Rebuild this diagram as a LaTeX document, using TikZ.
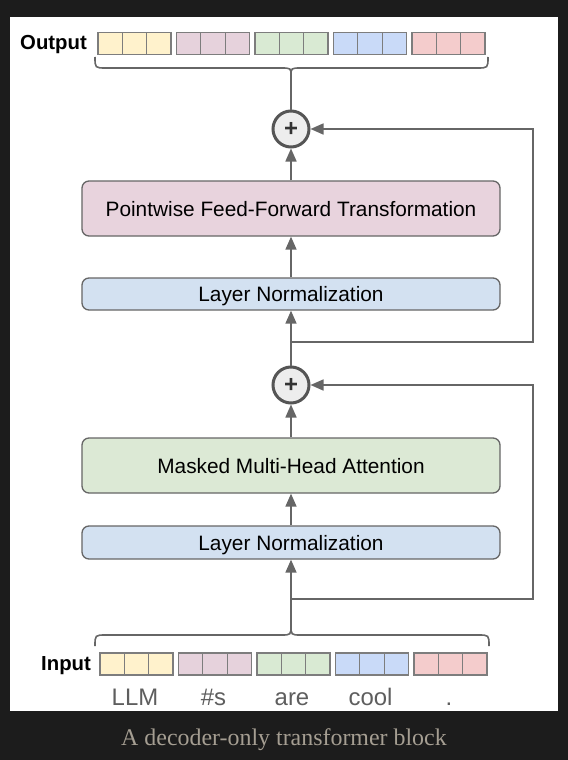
\documentclass[tikz,border=0pt]{standalone}
\usepackage{fontspec}
\setmainfont{Liberation Sans}
\newfontfamily\capfont{Liberation Serif}
\usetikzlibrary{arrows.meta}
\definecolor{bgdark}{HTML}{1C1C1C}
\definecolor{tokY}{HTML}{FFF2CC}
\definecolor{tokP}{HTML}{E6D2DC}
\definecolor{tokG}{HTML}{D9EAD3}
\definecolor{tokB}{HTML}{C9DAF8}
\definecolor{tokR}{HTML}{F4CCCC}
\definecolor{ffncol}{HTML}{E8D3DD}
\definecolor{attncol}{HTML}{DCE9D5}
\definecolor{lncol}{HTML}{D3E1F1}
\definecolor{linecol}{HTML}{666666}
\definecolor{circcol}{HTML}{555555}
\definecolor{wordcol}{HTML}{5E5E5E}
\definecolor{capcol}{HTML}{A59E92}
\tikzset{
  cell/.style={draw=linecol!85, line width=1.3bp, minimum width=24.33bp, minimum height=22bp, inner sep=0pt},
  blockbox/.style={draw=linecol, line width=1.3bp, rounded corners=7bp, minimum width=418bp, inner sep=0pt,
    text depth=0pt, font=\fontsize{20.9}{25}\selectfont, text=black},
  plusnode/.style={circle, draw=circcol, line width=3bp, fill=black!7, minimum size=36bp, inner sep=0pt,
    font=\bfseries\fontsize{24}{24}\selectfont, text=black!80},
  conn/.style={draw=linecol, line width=1.6bp},
  arr/.style={conn, -{Triangle[length=13bp,width=11bp]}},
  word/.style={anchor=base, inner sep=0pt, font=\fontsize{24}{28}\selectfont, text=wordcol},
  sidelbl/.style={anchor=base west, inner sep=0pt, font=\bfseries\fontsize{20.4}{24}\selectfont, text=black},
  brace/.style={draw=linecol, line width=1.6bp}
}
\begin{document}
\begin{tikzpicture}[x=1bp,y=-1bp]
\useasboundingbox (0,0) rectangle (568,760);
\fill[bgdark] (0,0) rectangle (568,760);
\fill[white] (10,17) rectangle (558,711);

% output tokens
\foreach \c [count=\i from 0] in {tokY,tokP,tokG,tokB,tokR} {
  \foreach \j in {0,1,2} {
    \node[cell, fill=\c] (o\i\j) at ({98+78.5*\i+24.33*(\j+0.5)},43.5) {};
    \node[cell, fill=\c] (in\i\j) at ({100+78.5*\i+24.33*(\j+0.5)},664) {};
  }
}
\foreach \w [count=\i from 0] in {LLM,\#s,are,cool,.} {
  \node[word] (w\i) at ({100+78.5*\i+36.5-1.5},705) {\w};
}
\node[sidelbl] (outlbl) at (20,50) {Output};
\node[sidelbl] (inlbl) at (41,670) {Input};

% braces
\coordinate (tbtip) at (291,76);
\coordinate (bbtip) at (291,625);
\draw[brace] (95,57) .. controls (95,68) .. (106,68) -- (281,68) .. controls (291,68) .. (tbtip)
  .. controls (291,68) .. (301,68) -- (477,68) .. controls (488,68) .. (488,57);
\draw[brace] (95,646) .. controls (95,635) .. (106,635) -- (281,635) .. controls (291,635) .. (bbtip)
  .. controls (291,635) .. (301,635) -- (478,635) .. controls (489,635) .. (489,646);

% blocks
\node[plusnode] (p1) at (291,129) {+};
\node[blockbox, fill=ffncol, minimum height=55bp] (ffn) at (291,208.5) {Pointwise Feed-Forward Transformation};
\node[blockbox, fill=lncol, minimum height=32bp] (ln2) at (291,294) {Layer Normalization};
\node[plusnode] (p2) at (291,385) {+};
\node[blockbox, fill=attncol, minimum height=55bp] (attn) at (291,465.5) {Masked Multi-Head Attention};
\node[blockbox, fill=lncol, minimum height=33bp] (ln1) at (291,542.5) {Layer Normalization};

\coordinate (j1) at (291,599);
\coordinate (c1) at (533,599);
\coordinate (j2) at (291,342);
\coordinate (c2) at (533,342);

% connectors
\draw[arr] (bbtip) -- (ln1.south);
\draw[arr] (ln1.north) -- (attn.south);
\draw[arr] (attn.north) -- (p2.south);
\draw[arr] (j1) -- (c1) |- (p2.east);
\draw[arr] (p2.north) -- (ln2.south);
\draw[arr] (ln2.north) -- (ffn.south);
\draw[arr] (ffn.north) -- (p1.south);
\draw[arr] (j2) -- (c2) |- (p1.east);
\draw[conn] (p1.north) -- (tbtip);

\node[anchor=base, inner sep=0pt, font=\capfont\fontsize{24}{28}\selectfont, text=capcol] (cap) at (284,745) {A decoder-only transformer block};
\end{tikzpicture}
\end{document}
